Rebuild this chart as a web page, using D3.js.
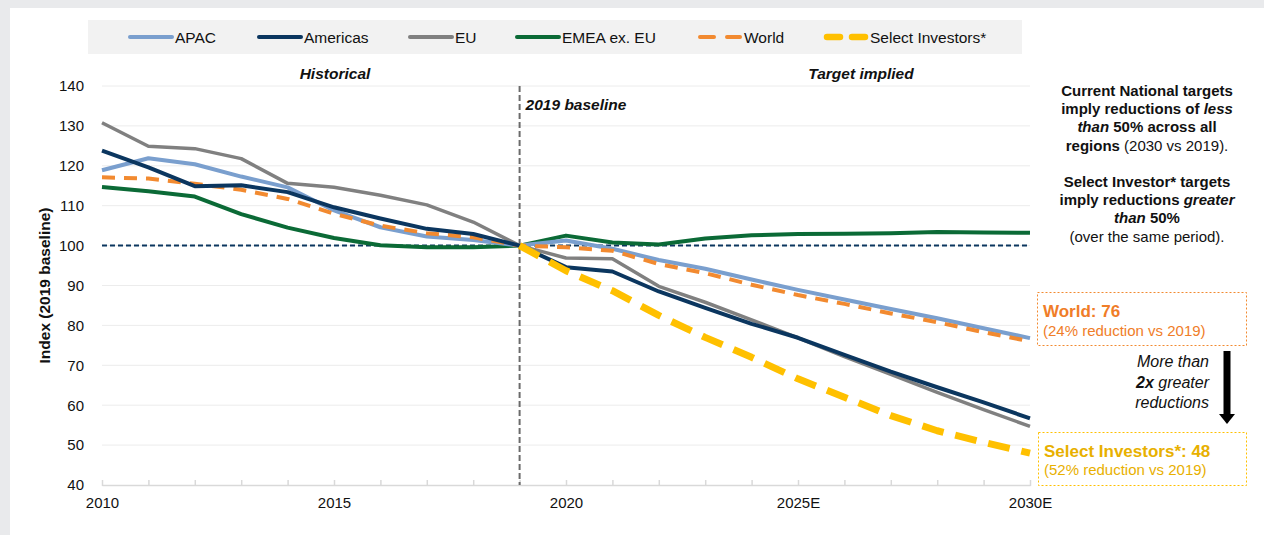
<!DOCTYPE html>
<html>
<head>
<meta charset="utf-8">
<script src="https://cdn.jsdelivr.net/npm/d3@7"></script>
<style>
  html, body { margin: 0; padding: 0; background: #e9eaec; }
  svg { display: block; font-family: "Liberation Sans", Arial, sans-serif; }
</style>
</head>
<body>
<svg id="chart" width="1264" height="535"></svg>
<script>
// Years and emissions index series (2019 = 100)
const years = d3.range(2010, 2031);
const xTickLabels = { 2010: "2010", 2015: "2015", 2020: "2020", 2025: "2025E", 2030: "2030E" };
const yTicks = [40, 50, 60, 70, 80, 90, 100, 110, 120, 130, 140];

const apac     = [118.9, 121.9, 120.4, 117.3, 114.6, 108.8, 104.6, 102.3, 101.4, 100, 101.3, 99.2, 96.4, 94.2, 91.5, 88.9, 86.5, 84.1, 81.8, 79.3, 76.8];
const americas = [123.8, 119.6, 114.9, 115.1, 113.4, 109.6, 106.8, 104.2, 102.9, 100, 94.6, 93.5, 88.5, 84.4, 80.4, 76.9, 72.6, 68.4, 64.5, 60.7, 56.7];
const eu       = [130.8, 124.9, 124.3, 121.8, 115.6, 114.6, 112.6, 110.2, 105.9, 100, 96.9, 96.7, 89.8, 85.8, 81.4, 76.9, 72.2, 67.7, 63.2, 58.9, 54.7];
const emea     = [114.7, 113.6, 112.3, 107.9, 104.5, 101.9, 100.1, 99.6, 99.6, 100, 102.5, 100.8, 100.3, 101.8, 102.6, 102.9, 103.0, 103.1, 103.4, 103.3, 103.2];
const world    = [117.1, 116.8, 115.5, 114.0, 111.7, 108.0, 105.0, 103.1, 102.1, 100, 99.6, 98.7, 95.4, 93.1, 90.2, 87.6, 85.4, 83.0, 80.8, 78.3, 76.0];
const investors = [null, null, null, null, null, null, null, null, null, 100, 93.7, 88.7, 82.5, 77.0, 72.0, 66.6, 62.0, 57.4, 53.6, 50.7, 48.0];

const seriesNames = ["APAC", "Americas", "EU", "EMEA ex. EU", "World", "Select Investors*"];
const seriesValues = [apac, americas, eu, emea, world, investors];
const seriesStyle = [
  { color: "#7a9fce", width: 4,   dash: null },
  { color: "#0b365f", width: 4,   dash: null },
  { color: "#808080", width: 3.5, dash: null },
  { color: "#0b6a36", width: 4,   dash: null },
  { color: "#f28a30", width: 4,   dash: "13,9" },
  { color: "#ffc000", width: 7,   dash: "22,12" }
];

const svg = d3.select("#chart");

// White panel
svg.append("rect").attr("x", 10).attr("y", 8).attr("width", 1254).attr("height", 527).attr("fill", "#ffffff");

const x = d3.scaleLinear().domain([2010, 2030]).range([102, 1030]);
const y = d3.scaleLinear().domain([40, 140]).range([485, 86]);

// Gridlines
svg.append("g")
  .selectAll("line")
  .data(yTicks.filter(t => t !== 40))
  .join("line")
  .attr("x1", x(2010)).attr("x2", x(2030))
  .attr("y1", d => y(d)).attr("y2", d => y(d))
  .attr("stroke", "#ececec").attr("stroke-width", 1);

// Y axis labels
const yAxis = d3.axisLeft(y).tickValues(yTicks).tickSize(0).tickPadding(0);
const gy = svg.append("g").attr("transform", `translate(84,0)`).call(yAxis);
gy.select(".domain").remove();
gy.selectAll("text").attr("font-size", 15).attr("fill", "#111").attr("font-family", "Liberation Sans, Arial, sans-serif");

// X axis
const xAxis = d3.axisBottom(x).tickValues(years).tickSize(6).tickSizeOuter(0)
  .tickFormat(d => xTickLabels[d] || "");
const gx = svg.append("g").attr("transform", `translate(0,${y(40)})`).call(xAxis);
gx.select(".domain").attr("stroke", "#d9d9d9").attr("stroke-width", 1.5);
gx.selectAll(".tick line").attr("stroke", "#d9d9d9").attr("stroke-width", 1.5).attr("y1", -5).attr("y2", 1);
gx.selectAll(".tick text").attr("font-size", 15).attr("fill", "#111").attr("y", 12).attr("dy", "0.71em")
  .attr("font-family", "Liberation Sans, Arial, sans-serif");

// Y axis title
svg.append("text")
  .attr("transform", `translate(50,${y(90)}) rotate(-90)`)
  .attr("text-anchor", "middle")
  .attr("font-size", 15.5).attr("font-weight", "bold").attr("fill", "#111")
  .text("Index (2019 baseline)");

// 100 baseline
svg.append("line")
  .attr("x1", x(2010)).attr("x2", x(2030))
  .attr("y1", y(100)).attr("y2", y(100))
  .attr("stroke", "#0b365f").attr("stroke-width", 2).attr("stroke-dasharray", "5,3");

// 2019 divider
svg.append("line")
  .attr("x1", x(2019)).attr("x2", x(2019))
  .attr("y1", y(140)).attr("y2", y(40))
  .attr("stroke", "#6b6b6b").attr("stroke-width", 2).attr("stroke-dasharray", "6,3");

svg.append("text")
  .attr("x", x(2019) + 6).attr("y", 110)
  .attr("font-size", 15.5).attr("font-weight", "bold").attr("font-style", "italic").attr("fill", "#111")
  .text("2019 baseline");

svg.append("text")
  .attr("x", 335).attr("y", 79).attr("text-anchor", "middle")
  .attr("font-size", 15.5).attr("font-weight", "bold").attr("font-style", "italic").attr("fill", "#111")
  .text("Historical");
svg.append("text")
  .attr("x", 861).attr("y", 79).attr("text-anchor", "middle")
  .attr("font-size", 15.5).attr("font-weight", "bold").attr("font-style", "italic").attr("fill", "#111")
  .text("Target implied");

// Series lines
const line = d3.line()
  .defined(d => d.v !== null)
  .x(d => x(d.year))
  .y(d => y(d.v));

const drawOrder = [3, 0, 4, 2, 1, 5];
drawOrder.forEach(i => {
  const pts = years.map((yr, k) => ({ year: yr, v: seriesValues[i][k] }));
  const s = seriesStyle[i];
  svg.append("path")
    .datum(pts)
    .attr("d", line)
    .attr("fill", "none")
    .attr("stroke", s.color)
    .attr("stroke-width", s.width)
    .attr("stroke-linejoin", "round")
    .attr("stroke-dasharray", s.dash);
});

// Legend
svg.append("rect").attr("x", 88).attr("y", 20).attr("width", 934).attr("height", 34).attr("fill", "#f2f2f2");
const legendX = [129, 258, 409, 516, 698, 824];
const lg = svg.append("g");
seriesNames.forEach((name, i) => {
  const s = seriesStyle[i];
  const g = lg.append("g").attr("transform", `translate(${legendX[i]},37)`);
  if (i === 4) {
    g.append("line").attr("x1", 2).attr("x2", 42).attr("y1", 0).attr("y2", 0)
      .attr("stroke", s.color).attr("stroke-width", 4)
      .attr("stroke-linecap", "round").attr("stroke-dasharray", "14,13");
  } else if (i === 5) {
    g.append("line").attr("x1", 3).attr("x2", 41).attr("y1", 0).attr("y2", 0)
      .attr("stroke", s.color).attr("stroke-width", 6.5)
      .attr("stroke-linecap", "round").attr("stroke-dasharray", "13,12");
  } else {
    g.append("line").attr("x1", 1).attr("x2", 43).attr("y1", 0).attr("y2", 0)
      .attr("stroke", s.color).attr("stroke-width", 4).attr("stroke-linecap", "round");
  }
  g.append("text").attr("x", 46).attr("y", 5.5)
    .attr("font-size", 15.5).attr("fill", "#111").text(name);
});

// Right-hand commentary
const note = svg.append("text").attr("text-anchor", "middle").attr("font-size", 15).attr("fill", "#111");
const noteLines = [
  [{ t: "Current National targets", b: true }],
  [{ t: "imply reductions of ", b: true }, { t: "less", b: true, i: true }],
  [{ t: "than", b: true, i: true }, { t: " 50% across all", b: true }],
  [{ t: "regions", b: true }, { t: " (2030 vs 2019)." }],
  [],
  [{ t: "Select Investor* targets", b: true }],
  [{ t: "imply reductions ", b: true }, { t: "greater", b: true, i: true }],
  [{ t: "than", b: true, i: true }, { t: " 50%", b: true }],
  [{ t: "(over the same period)." }]
];
noteLines.forEach((parts, k) => {
  if (!parts.length) return;
  const ln = note.append("tspan").attr("x", 1147).attr("y", 96 + k * 18.2);
  parts.forEach((p, j) => {
    const ts = j === 0 ? ln : note.append("tspan");
    ts.attr("font-weight", p.b ? "bold" : "normal").attr("font-style", p.i ? "italic" : "normal").text(p.t);
  });
});

// World callout
svg.append("rect").attr("x", 1037.5).attr("y", 292.5).attr("width", 209).attr("height", 53)
  .attr("fill", "none").attr("stroke", "#f28a30").attr("stroke-width", 1).attr("stroke-dasharray", "2,2");
svg.append("text").attr("x", 1043).attr("y", 317).attr("font-size", 17).attr("font-weight", "bold")
  .attr("fill", "#f07d28").text("World: " + world[world.length - 1].toFixed(0));
svg.append("text").attr("x", 1043).attr("y", 336).attr("font-size", 15)
  .attr("fill", "#f07d28").text("(24% reduction vs 2019)");

// Select investors callout
svg.append("rect").attr("x", 1038.5).attr("y", 432.5).attr("width", 208).attr("height", 53)
  .attr("fill", "none").attr("stroke", "#ffc000").attr("stroke-width", 1).attr("stroke-dasharray", "2,2");
svg.append("text").attr("x", 1044).attr("y", 457).attr("font-size", 17).attr("font-weight", "bold")
  .attr("fill", "#e8b000").text("Select Investors*: " + investors[investors.length - 1].toFixed(0));
svg.append("text").attr("x", 1044).attr("y", 475).attr("font-size", 15)
  .attr("fill", "#e8b000").text("(52% reduction vs 2019)");

// Arrow between callouts
svg.append("rect").attr("x", 1223.5).attr("y", 351).attr("width", 7).attr("height", 64).attr("fill", "#000");
svg.append("path").attr("d", "M1219,414 L1235,414 L1227,424 Z").attr("fill", "#000");

const arrowNote = svg.append("text").attr("text-anchor", "end").attr("font-size", 16).attr("fill", "#111").attr("font-style", "italic");
arrowNote.append("tspan").attr("x", 1209).attr("y", 367).text("More than");
const l2 = arrowNote.append("tspan").attr("x", 1209).attr("y", 388);
l2.append("tspan").attr("font-weight", "bold").text("2x");
arrowNote.append("tspan").text(" greater");
arrowNote.append("tspan").attr("x", 1209).attr("y", 408).text("reductions");
</script>
</body>
</html>
